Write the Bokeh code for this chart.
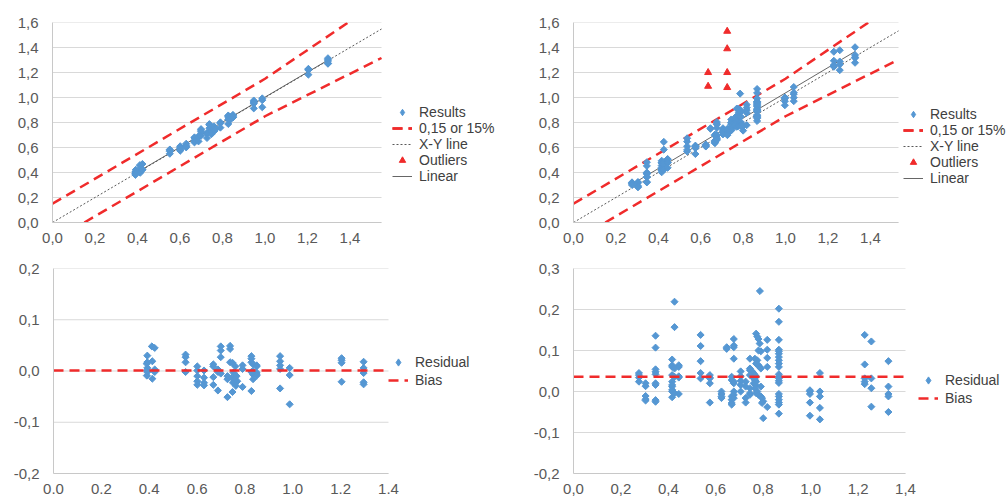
import math
from bokeh.plotting import figure
from bokeh.models import (Legend, LegendItem, FixedTicker, CustomJSTickFormatter, Range1d)
from bokeh.layouts import column, row
from bokeh.embed import file_html
from bokeh.resources import INLINE

NAN = float("nan")

# ------------------------------------------------------------------ data
# left panel: reference value (x), measured result (top), residual (bottom)
left_x = [0.392, 0.392, 0.390, 0.392, 0.390, 0.392, 0.390, 0.411, 0.423, 0.413,
          0.413, 0.423, 0.423, 0.552, 0.552, 0.552, 0.552, 0.601, 0.601, 0.601,
          0.601, 0.601, 0.629, 0.629, 0.629, 0.629, 0.668, 0.668, 0.668, 0.668,
          0.687, 0.687, 0.687, 0.699, 0.699, 0.699, 0.699, 0.727, 0.727, 0.727,
          0.738, 0.738, 0.738, 0.748, 0.760, 0.752, 0.765, 0.745, 0.758, 0.768,
          0.750, 0.762, 0.748, 0.790, 0.790, 0.790, 0.827, 0.827, 0.827, 0.827,
          0.827, 0.834, 0.834, 0.834, 0.834, 0.849, 0.849, 0.849, 0.849, 0.849,
          0.947, 0.947, 0.947, 0.947, 0.947, 0.987, 0.987, 0.987, 1.204, 1.204,
          1.204, 1.204, 1.296, 1.296, 1.296, 1.296, 1.296]
left_result = [0.422, 0.409, 0.404, 0.398, 0.391, 0.390, 0.381, 0.459, 0.468, 0.432,
               0.398, 0.426, 0.421, 0.584, 0.579, 0.569, 0.550, 0.610, 0.602, 0.591,
               0.581, 0.574, 0.630, 0.616, 0.606, 0.601, 0.681, 0.677, 0.656, 0.641,
               0.690, 0.685, 0.649, 0.747, 0.739, 0.726, 0.694, 0.717, 0.711, 0.676,
               0.787, 0.781, 0.755, 0.764, 0.769, 0.749, 0.755, 0.732, 0.742, 0.748,
               0.727, 0.733, 0.707, 0.801, 0.794, 0.759, 0.856, 0.851, 0.844, 0.825,
               0.788, 0.847, 0.834, 0.827, 0.818, 0.860, 0.858, 0.846, 0.843, 0.840,
               0.976, 0.966, 0.958, 0.951, 0.913, 0.993, 0.979, 0.922, 1.229, 1.225,
               1.220, 1.183, 1.314, 1.302, 1.292, 1.274, 1.270]
left_residual = [0.030, 0.017, 0.014, 0.006, 0.001, -0.002, -0.009, 0.048, 0.045, 0.019,
                 -0.015, 0.003, -0.002, 0.032, 0.027, 0.017, -0.002, 0.009, 0.001, -0.010,
                 -0.020, -0.027, 0.001, -0.013, -0.023, -0.028, 0.013, 0.009, -0.012, -0.027,
                 0.003, -0.002, -0.038, 0.048, 0.040, 0.027, -0.005, -0.010, -0.016, -0.051,
                 0.049, 0.043, 0.017, 0.016, 0.009, -0.003, -0.010, -0.013, -0.016, -0.020,
                 -0.023, -0.029, -0.041, 0.011, 0.004, -0.031, 0.029, 0.024, 0.017, -0.002,
                 -0.039, 0.013, 0.000, -0.007, -0.016, 0.011, 0.009, -0.003, -0.006, -0.009,
                 0.029, 0.019, 0.011, 0.004, -0.034, 0.006, -0.008, -0.065, 0.025, 0.021,
                 0.016, -0.021, 0.018, 0.006, -0.004, -0.022, -0.026]
left_outlier_x = [NAN]     # no outliers in the left data set
left_outlier_y = [NAN]

# right panel
right_x = [0.276, 0.276, 0.276, 0.276,
           0.304, 0.304, 0.304, 0.304, 0.304,
           0.346, 0.346, 0.346, 0.346, 0.346, 0.346, 0.346, 0.346, 0.346,
           0.416, 0.416, 0.416, 0.416, 0.416, 0.416, 0.416, 0.416, 0.416, 0.416,
           0.426, 0.426, 0.426, 0.426, 0.426,
           0.444, 0.444, 0.444, 0.444, 0.444,
           0.536, 0.536, 0.536, 0.536, 0.536,
           0.575, 0.575, 0.575, 0.575, 0.575,
           0.624, 0.624, 0.624, 0.624,
           0.646, 0.646,
           0.667, 0.667, 0.667, 0.667, 0.667, 0.667,
           0.676, 0.676, 0.676, 0.676, 0.676, 0.676, 0.676, 0.676, 0.676,
           0.705, 0.705, 0.705, 0.705, 0.705,
           0.726, 0.726, 0.726, 0.726,
           0.744, 0.744, 0.744, 0.744, 0.744, 0.744, 0.744,
           0.770, 0.775, 0.780, 0.785, 0.780, 0.790, 0.765, 0.775, 0.770, 0.780,
           0.785, 0.790, 0.755, 0.760, 0.765, 0.770, 0.760, 0.765, 0.770, 0.760,
           0.768, 0.790, 0.765, 0.775, 0.770, 0.780, 0.790, 0.795, 0.800, 0.795,
           0.800, 0.786,
           0.817, 0.817, 0.817, 0.817, 0.817,
           0.866, 0.866, 0.866, 0.866, 0.866, 0.866, 0.866, 0.866, 0.866, 0.866,
           0.866, 0.866, 0.866, 0.866, 0.866, 0.866, 0.866, 0.866, 0.866, 0.866, 0.866,
           0.997, 0.997, 0.997, 0.997, 0.997,
           1.039, 1.039, 1.039, 1.039, 1.039,
           1.228, 1.228, 1.228, 1.228, 1.228,
           1.256, 1.256, 1.256, 1.256,
           1.328, 1.328, 1.328, 1.328, 1.328]
right_result = [0.321, 0.316, 0.310, 0.300,
                0.324, 0.317, 0.293, 0.285, 0.282,
                0.482, 0.453, 0.400, 0.394, 0.388, 0.366, 0.362, 0.325, 0.321,
                0.494, 0.480, 0.476, 0.456, 0.440, 0.432, 0.428, 0.420, 0.416, 0.402,
                0.645, 0.583, 0.482, 0.462, 0.422,
                0.508, 0.504, 0.481, 0.478, 0.438,
                0.674, 0.647, 0.610, 0.581, 0.568,
                0.615, 0.609, 0.607, 0.595, 0.548,
                0.624, 0.618, 0.612, 0.608,
                0.754, 0.750,
                0.703, 0.695, 0.655, 0.647, 0.639, 0.635,
                0.804, 0.788, 0.784, 0.756, 0.700, 0.696, 0.676, 0.668, 0.660,
                0.754, 0.742, 0.731, 0.721, 0.705,
                0.750, 0.738, 0.710, 0.699,
                0.824, 0.800, 0.796, 0.784, 0.752, 0.740, 0.736,
                0.911, 0.909, 0.908, 0.902, 0.880, 0.888, 0.845, 0.851, 0.838, 0.844,
                0.845, 0.846, 0.803, 0.804, 0.805, 0.806, 0.792, 0.793, 0.794, 0.780,
                0.784, 0.802, 0.773, 0.775, 0.766, 0.772, 0.778, 0.779, 0.776, 0.767,
                0.735, 1.031,
                0.943, 0.919, 0.899, 0.877, 0.779,
                1.068, 1.036, 0.992, 0.968, 0.964, 0.958, 0.950, 0.942, 0.934, 0.926,
                0.908, 0.902, 0.898, 0.892, 0.887, 0.860, 0.854, 0.846, 0.839, 0.834, 0.812,
                1.000, 0.997, 0.991, 0.970, 0.938,
                1.084, 1.039, 1.027, 0.999, 0.971,
                1.366, 1.294, 1.260, 1.252, 1.246,
                1.378, 1.288, 1.264, 1.219,
                1.402, 1.340, 1.322, 1.316, 1.278]
right_residual = [0.045, 0.040, 0.034, 0.024,
                  0.020, 0.013, -0.011, -0.019, -0.022,
                  0.136, 0.107, 0.054, 0.048, 0.042, 0.020, 0.016, -0.021, -0.025,
                  0.078, 0.064, 0.060, 0.040, 0.024, 0.016, 0.012, 0.004, 0.000, -0.014,
                  0.219, 0.157, 0.056, 0.036, -0.004,
                  0.064, 0.060, 0.037, 0.034, -0.006,
                  0.138, 0.111, 0.074, 0.045, 0.032,
                  0.040, 0.034, 0.032, 0.020, -0.027,
                  0.000, -0.006, -0.012, -0.016,
                  0.108, 0.104,
                  0.036, 0.028, -0.012, -0.020, -0.028, -0.032,
                  0.128, 0.112, 0.108, 0.080, 0.024, 0.020, 0.000, -0.008, -0.016,
                  0.049, 0.037, 0.026, 0.016, 0.000,
                  0.024, 0.012, -0.016, -0.027,
                  0.080, 0.056, 0.052, 0.040, 0.008, -0.004, -0.008,
                  0.141, 0.134, 0.128, 0.117, 0.100, 0.098, 0.080, 0.076, 0.068, 0.064,
                  0.060, 0.056, 0.048, 0.044, 0.040, 0.036, 0.032, 0.028, 0.024, 0.020,
                  0.016, 0.012, 0.008, 0.000, -0.004, -0.008, -0.012, -0.016, -0.024, -0.028,
                  -0.065, 0.245,
                  0.126, 0.102, 0.082, 0.060, -0.038,
                  0.202, 0.170, 0.126, 0.102, 0.098, 0.092, 0.084, 0.076, 0.068, 0.060,
                  0.042, 0.036, 0.032, 0.026, 0.021, -0.006, -0.012, -0.020, -0.027, -0.032, -0.054,
                  0.003, 0.000, -0.006, -0.027, -0.059,
                  0.045, 0.000, -0.012, -0.040, -0.068,
                  0.138, 0.066, 0.032, 0.024, 0.018,
                  0.122, 0.032, 0.008, -0.037,
                  0.074, 0.012, -0.006, -0.012, -0.050]
right_outlier_x = [0.635, 0.635, 0.725, 0.725, 0.725, 0.725]
right_outlier_y = [1.20, 1.09, 1.53, 1.39, 1.20, 1.08]

# acceptance limits "0,15 or 15%" (break points, up to the axis end)
left_xmax = 1.548
right_xmax = 1.533
res_xmax = 1.4
left_upper_x = [0.0, 1.0, 1.548]
left_upper_y = [0.15, 1.15, 1.780]
left_lower_x = [0.15, 1.0, 1.548]
left_lower_y = [0.0, 0.85, 1.316]
right_upper_x = [0.0, 1.0, 1.533]
right_upper_y = [0.15, 1.15, 1.763]
right_lower_x = [0.15, 1.0, 1.533]
right_lower_y = [0.0, 0.85, 1.303]
left_xy = [0.0, 1.548]
right_xy = [0.0, 1.533]
left_linear_x = [0.38, 1.30]
left_linear_y = [0.383, 1.303]
right_linear_x = [0.27, 1.33]
right_linear_y = [0.300, 1.370]
bias_x = [0.0, 1.4]
left_bias_y = [0.001, 0.001]
right_bias_y = [0.036, 0.036]

top_x_ticks = [0.0, 0.2, 0.4, 0.6, 0.8, 1.0, 1.2, 1.4]
top_y_ticks = [0.0, 0.2, 0.4, 0.6, 0.8, 1.0, 1.2, 1.4, 1.6]
left_res_ticks = [-0.2, -0.1, 0.0, 0.1, 0.2]
right_res_ticks = [-0.2, -0.1, 0.0, 0.1, 0.2, 0.3]
top_labels = ["Results", "0,15 or 15%", "X-Y line", "Outliers", "Linear"]
bottom_labels = ["Residual", "Bias"]

# ------------------------------------------------------------------ style
FONT = "Liberation Sans"
BLUE = "#5597d3"
RED = "#f02b2b"
GRID = "#d9d9d9"
AXIS = "#c8c8c8"
TICK_TXT = "#595959"
LEG_TXT = "#404040"

COMMA = "return tick.toFixed(1).replace('.', ',');"
DOT = "return tick.toFixed(1);"


def make_fig(w, h, xmax, plot_w, yr, yticks, mb):
    # the frame runs to the right edge of the figure so that the legend sits
    # inside it; the plotting area proper ends at xmax (plot_w pixels wide)
    x_end = xmax * (w - mb[0]) / plot_w
    p = figure(width=w, height=h, x_range=Range1d(0, x_end), y_range=Range1d(*yr),
               output_backend="svg", toolbar_location=None,
               min_border_left=mb[0], min_border_right=0,
               min_border_top=mb[1], min_border_bottom=mb[2])
    p.outline_line_color = None
    p.xgrid.visible = False
    p.ygrid.visible = False
    p.background_fill_color = "white"
    p.border_fill_color = "white"
    n = len(yticks)
    p.segment(x0=[0.0] * n, y0=yticks, x1=[xmax] * n, y1=yticks,
              line_color=GRID, line_width=1)
    for ax in p.axis:
        ax.axis_line_color = AXIS
        ax.axis_line_width = 1
        ax.major_tick_line_color = None
        ax.minor_tick_line_color = None
        ax.major_label_text_font = FONT
        ax.major_label_text_font_size = "15px"
        ax.major_label_text_color = TICK_TXT
    p.xaxis.bounds = (0, xmax)
    p.xaxis.major_label_standoff = 4
    p.yaxis.major_label_standoff = 8
    return p


def set_ticks(p, xt, yt, xfmt, yfmt):
    p.xaxis.ticker = FixedTicker(ticks=xt)
    p.yaxis.ticker = FixedTicker(ticks=yt)
    p.xaxis.formatter = CustomJSTickFormatter(code=xfmt)
    p.yaxis.formatter = CustomJSTickFormatter(code=yfmt)


def add_legend(p, items, loc, gh):
    leg = Legend(items=items, location=loc, orientation="vertical",
                 glyph_width=20, glyph_height=gh, label_height=gh,
                 label_standoff=7, spacing=0, padding=0, margin=0,
                 label_text_font=FONT, label_text_font_size="14px",
                 label_text_color=LEG_TXT, background_fill_alpha=0,
                 border_line_color=None)
    p.add_layout(leg)


def points(p, xs, ys):
    # Excel-style diamonds (rotated squares) plus a diamond symbol for the legend
    p.scatter(xs, ys, marker="square", angle=math.pi / 4, size=5,
              fill_color=BLUE, line_color=BLUE)
    return p.scatter([NAN], [NAN], marker="diamond", size=7,
                     fill_color=BLUE, line_color=BLUE)


def top_panel(w, h, xmax, plot_w, mb, xs, ys, ox, oy, ux, uy, lx, ly, xyl,
              lin_x, lin_y, loc):
    p = make_fig(w, h, xmax, plot_w, (0, 1.6), top_y_ticks, mb)
    set_ticks(p, top_x_ticks, top_y_ticks, COMMA, COMMA)
    up = p.line(ux, uy, line_color=RED, line_width=2.5, line_dash="10 6")
    lo = p.line(lx, ly, line_color=RED, line_width=2.5, line_dash="10 6")
    xy = p.line(xyl, xyl, line_color="#595959", line_width=1, line_dash="2 2")
    lin = p.line(lin_x, lin_y, line_color="#555555", line_width=0.9)
    res = points(p, xs, ys)
    out = p.scatter(ox, oy, marker="triangle", size=7, fill_color=RED, line_color=RED)
    items = [LegendItem(label=top_labels[0], renderers=[res]),
             LegendItem(label=top_labels[1], renderers=[up, lo]),
             LegendItem(label=top_labels[2], renderers=[xy]),
             LegendItem(label=top_labels[3], renderers=[out]),
             LegendItem(label=top_labels[4], renderers=[lin])]
    add_legend(p, items, loc, 16)
    return p


def bottom_panel(w, h, plot_w, yr, yt, xfmt, mb, xs, rs, by, loc):
    p = make_fig(w, h, res_xmax, plot_w, yr, yt, mb)
    set_ticks(p, top_x_ticks, yt, xfmt, COMMA)
    res = points(p, xs, rs)
    bias = p.line(bias_x, by, line_color=RED, line_width=2.5, line_dash="10 6")
    items = [LegendItem(label=bottom_labels[0], renderers=[res]),
             LegendItem(label=bottom_labels[1], renderers=[bias])]
    add_legend(p, items, loc, 18)
    return p


p1 = top_panel(510, 250, left_xmax, 329, (52, 22, 26), left_x, left_result,
               left_outlier_x, left_outlier_y, left_upper_x, left_upper_y,
               left_lower_x, left_lower_y, left_xy, left_linear_x, left_linear_y,
               (340, 38))
p2 = top_panel(497, 250, right_xmax, 325, (63, 20, 28), right_x, right_result,
               right_outlier_x, right_outlier_y, right_upper_x, right_upper_y,
               right_lower_x, right_lower_y, right_xy, right_linear_x, right_linear_y,
               (330, 36))
p3 = bottom_panel(510, 246, 335, (-0.2, 0.2), left_res_ticks, DOT, (53, 18, 22),
                  left_x, left_residual, left_bias_y, (335, 84))
p4 = bottom_panel(497, 246, 332, (-0.2, 0.3), right_res_ticks, COMMA, (63, 17, 22),
                  right_x, right_residual, right_bias_y, (345, 66))

layout = column(row(p1, p2), row(p3, p4))
open("out.html", "w").write(file_html(layout, INLINE))
